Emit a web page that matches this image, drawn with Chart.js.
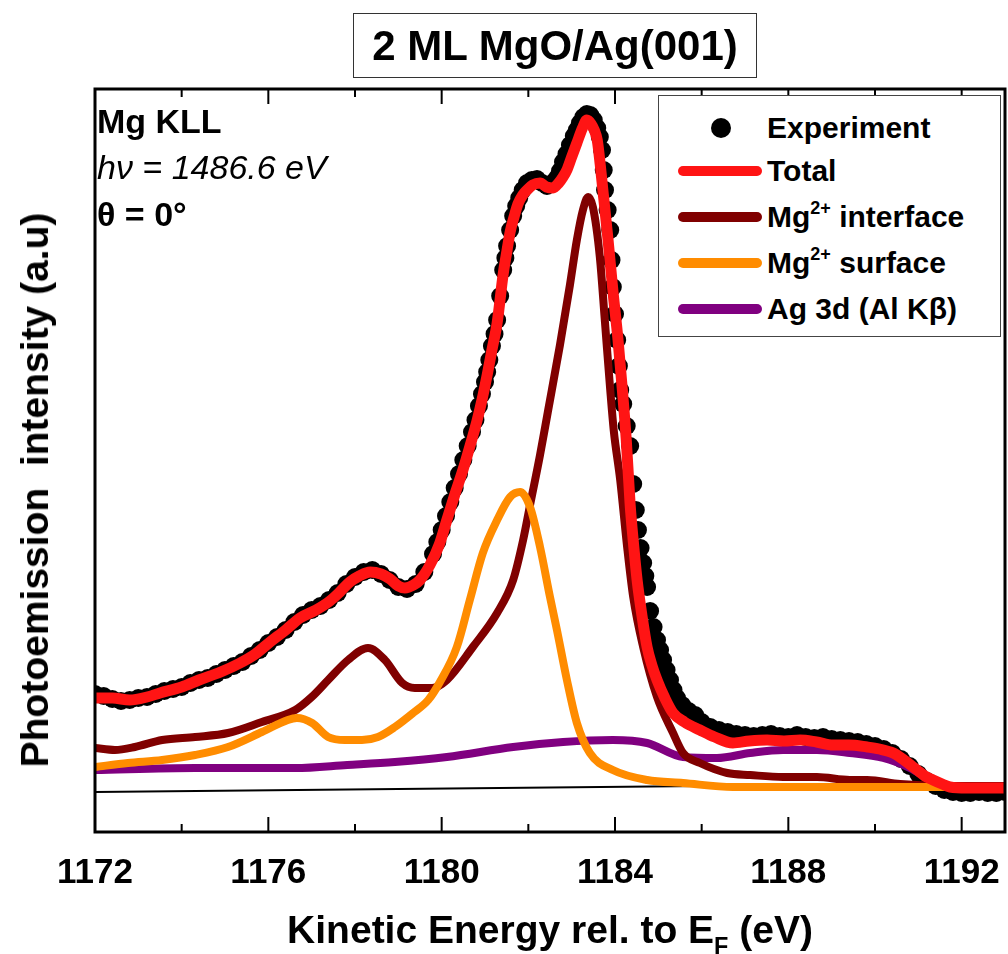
<!DOCTYPE html>
<html>
<head>
<meta charset="utf-8">
<script src="https://cdn.jsdelivr.net/npm/chart.js@4.4.0/dist/chart.umd.min.js"></script>
<style>
    body { margin: 0; background: #fff; font-family: "Liberation Sans", Arial, sans-serif; }
    #wrap { position: relative; width: 1008px; height: 954px; }
    #wrap canvas { position: absolute; left: 0; top: 0; }
    .txt { position: absolute; color: #000; white-space: pre; }
    #title { left: 353px; top: 13px; width: 402px; height: 63px; border: 1.5px solid #333; font-weight: bold;
             font-size: 42px; line-height: 63px; text-align: center; }
    #legend { position: absolute; left: 658px; top: 95px; width: 341px; height: 240px; border: 1.5px solid #444; background: #fff; }
    .row { position: absolute; left: 0; height: 40px; width: 100%; }
    .row .line { position: absolute; left: 19px; top: 15px; width: 84px; height: 10px; border-radius: 5px; }
    .row .dot { position: absolute; left: 52px; top: 10px; width: 20px; height: 20px; border-radius: 50%; background: #000; }
    .row .lab { position: absolute; left: 108px; top: 0; font-weight: bold; font-size: 30px; line-height: 40px; white-space: pre; }
    sup { font-size: 60%; vertical-align: 0; position: relative; top: -0.75em; }
    sub { font-size: 60%; vertical-align: 0; position: relative; top: 0.45em; }
</style>
</head>
<body>
<div id="wrap">
    <canvas id="mgKllChart"></canvas>
    <div id="title" class="txt">2 ML MgO/Ag(001)</div>
    <div class="txt" style="left:97px; top:102px; font-size:34px; font-weight:bold;">Mg KLL</div>
    <div class="txt" style="left:97px; top:148px; font-size:34px; font-style:italic;">hν = 1486.6 eV</div>
    <div class="txt" style="left:97px; top:195px; font-size:34px; font-weight:bold;">θ = 0°</div>
    <div id="legend">
        <div class="row" style="top:12px"><div class="dot"></div><div class="lab">Experiment</div></div>
        <div class="row" style="top:55px"><div class="line" style="background:rgb(255,20,20)"></div><div class="lab">Total</div></div>
        <div class="row" style="top:101px"><div class="line" style="background:rgb(128,0,0)"></div><div class="lab">Mg<sup>2+</sup> interface</div></div>
        <div class="row" style="top:147px"><div class="line" style="background:rgb(255,140,0)"></div><div class="lab">Mg<sup>2+</sup> surface</div></div>
        <div class="row" style="top:193px"><div class="line" style="background:rgb(128,0,128)"></div><div class="lab">Ag 3d (Al Kβ)</div></div>
    </div>
    <div class="txt" style="left:35px; top:490px; font-size:39px; font-weight:bold; transform: translate(-50%, -50%) rotate(-90deg);">Photoemission  intensity (a.u)</div>
    <div class="txt" style="left:550px; top:930px; font-size:39px; font-weight:bold; transform: translate(-50%, -50%);">Kinetic Energy rel. to E<sub>F</sub> (eV)</div>
</div>

<script>
// -------------------------------------------------------------------------- Data (kinetic energy in eV, intensity in a.u.)

const expEnergy = [
    1172.0, 1172.2, 1172.4, 1172.6, 1172.8, 1173.0, 1173.2, 1173.4, 1173.6, 1173.8,
    1174.0, 1174.2, 1174.4, 1174.6, 1174.8, 1175.0, 1175.2, 1175.4, 1175.6, 1175.8,
    1176.0, 1176.2, 1176.4, 1176.6, 1176.8, 1177.0, 1177.2, 1177.4, 1177.6, 1177.8,
    1178.0, 1178.2, 1178.4, 1178.6, 1178.8, 1179.0, 1179.2, 1179.4, 1179.6, 1179.8,
    1179.9, 1180.0, 1180.1, 1180.2, 1180.3, 1180.4, 1180.5, 1180.6, 1180.7, 1180.78,
    1180.86, 1180.93, 1181.0, 1181.05, 1181.1, 1181.16, 1181.22, 1181.28, 1181.35, 1181.42,
    1181.47, 1181.51, 1181.58, 1181.65, 1181.72, 1181.79, 1181.87, 1181.97, 1182.08, 1182.2,
    1182.32, 1182.43, 1182.55, 1182.66, 1182.73, 1182.8, 1182.88, 1182.96, 1183.05, 1183.12,
    1183.19, 1183.27, 1183.35, 1183.43, 1183.51, 1183.59, 1183.65, 1183.7, 1183.74, 1183.77,
    1183.83, 1183.89, 1183.92, 1183.95, 1184.0, 1184.05, 1184.09, 1184.12, 1184.19, 1184.27,
    1184.35, 1184.42, 1184.48, 1184.53, 1184.59, 1184.65, 1184.7, 1184.74, 1184.81, 1184.89,
    1184.97, 1185.04, 1185.11, 1185.19, 1185.27, 1185.35, 1185.43, 1185.55, 1185.7, 1185.85,
    1186.0, 1186.2, 1186.4, 1186.6, 1186.8, 1187.0, 1187.2, 1187.4, 1187.6, 1187.8,
    1188.0, 1188.2, 1188.4, 1188.6, 1188.8, 1189.0, 1189.2, 1189.4, 1189.6, 1189.8,
    1190.0, 1190.2, 1190.4, 1190.6, 1190.8, 1191.0, 1191.2, 1191.4, 1191.6, 1191.8,
    1192.0, 1192.2, 1192.4, 1192.6, 1192.8, 1193.0
]
const expCounts = [
    9.6, 9.4, 9.1, 8.9, 9.0, 9.2, 9.3, 9.6, 9.9, 10.1,
    10.3, 10.7, 11.0, 11.2, 11.6, 12.0, 12.4, 12.8, 13.4, 14.0,
    14.7, 15.3, 16.0, 16.8, 17.5, 18.0, 18.4, 19.0, 19.7, 20.6,
    21.3, 21.8, 22.0, 21.6, 21.0, 20.3, 20.1, 20.6, 21.8, 23.6,
    24.8, 26.0, 27.4, 28.8, 30.2, 31.6, 33.0, 34.4, 35.8, 37.0,
    38.4, 39.6, 40.8, 41.8, 43.0, 44.4, 45.6, 47.0, 49.4, 52.0,
    53.2, 54.4, 56.0, 57.4, 58.4, 59.2, 60.0, 60.7, 61.0, 61.1,
    60.7, 60.4, 60.7, 61.2, 61.9, 62.8, 63.6, 64.5, 65.4, 66.0,
    66.7, 67.3, 67.6, 67.5, 67.0, 66.2, 65.3, 64.0, 62.0, 60.0,
    58.0, 56.0, 53.0, 50.3, 47.6, 45.0, 42.4, 40.0, 38.6, 36.4,
    34.4, 30.6, 28.0, 26.0, 24.2, 22.7, 21.4, 20.3, 17.9, 16.3,
    15.0, 14.0, 13.0, 12.0, 11.0, 10.0, 9.2, 8.5, 7.9, 7.5,
    6.8, 6.3, 6.0, 5.8, 5.6, 5.5, 5.4, 5.5, 5.6, 5.4,
    5.3, 5.5, 5.3, 5.2, 5.3, 5.1, 5.0, 4.9, 4.8, 4.6,
    4.4, 4.1, 3.7, 3.1, 2.4, 1.6, 0.9, 0.4, 0.0, -0.2,
    -0.3, -0.3, -0.2, -0.3, -0.3, -0.2
]

const totalEnergy = [
    1172.0, 1172.4, 1172.8, 1173.2, 1173.5, 1174.0, 1174.4, 1174.9, 1175.35, 1175.7,
    1176.04, 1176.4, 1176.73, 1177.1, 1177.42, 1177.65, 1177.88, 1178.1, 1178.35, 1178.6,
    1178.81, 1179.0, 1179.15, 1179.35, 1179.5, 1179.73, 1179.95, 1180.12, 1180.3, 1180.49,
    1180.66, 1180.82, 1180.93, 1181.05, 1181.16, 1181.28, 1181.42, 1181.51, 1181.58, 1181.67,
    1181.76, 1181.87, 1181.97, 1182.1, 1182.27, 1182.42, 1182.57, 1182.7, 1182.8, 1182.89,
    1183.0, 1183.12, 1183.25, 1183.35, 1183.45, 1183.52, 1183.59, 1183.66, 1183.72, 1183.84,
    1183.95, 1184.07, 1184.17, 1184.26, 1184.35, 1184.43, 1184.51, 1184.62, 1184.74, 1184.85,
    1184.97, 1185.15, 1185.34, 1185.6, 1185.96, 1186.3, 1186.72, 1187.1, 1187.51, 1187.9,
    1188.27, 1188.65, 1189.03, 1189.4, 1189.82, 1190.1, 1190.42, 1190.7, 1190.97, 1191.15,
    1191.34, 1191.55, 1191.73, 1192.12, 1192.5, 1193.0
]
const totalFit = [
    9.2, 9.2, 9.0, 9.3, 9.7, 10.3, 11.0, 11.8, 12.7, 13.6,
    14.8, 16.0, 17.2, 18.0, 18.9, 19.8, 20.8, 21.4, 21.8, 21.6,
    21.1, 20.4, 20.2, 20.5, 21.0, 22.5, 24.6, 27.0, 29.5, 32.0,
    34.5, 37.0, 39.0, 41.5, 44.0, 46.7, 51.6, 54.0, 55.8, 57.3,
    58.6, 59.5, 60.0, 60.5, 60.7, 60.3, 60.2, 60.7, 61.3, 62.0,
    63.3, 64.7, 66.2, 67.0, 66.6, 66.0, 65.0, 62.5, 60.0, 55.0,
    50.0, 45.0, 40.0, 35.0, 28.5, 24.5, 21.0, 17.5, 14.3, 12.5,
    11.0, 9.2, 7.7, 6.8, 6.0, 5.3, 4.7, 4.9, 5.0, 4.9,
    5.0, 4.8, 4.5, 4.5, 4.3, 4.1, 3.7, 2.9, 2.0, 1.4,
    1.0, 0.6, 0.3, 0.2, 0.2, 0.2
]

const ifaceEnergy = [
    1172.0, 1172.46, 1172.92, 1173.55, 1174.31, 1175.07, 1175.85, 1176.62, 1177.0, 1177.38,
    1177.84, 1178.3, 1178.69, 1179.09, 1179.38, 1179.78, 1180.12, 1180.72, 1181.28, 1181.65,
    1181.88, 1182.04, 1182.27, 1182.45, 1182.73, 1182.96, 1183.12, 1183.26, 1183.38, 1183.49,
    1183.65, 1183.77, 1183.89, 1183.97, 1184.12, 1184.28, 1184.42, 1184.65, 1184.97, 1185.34,
    1185.57, 1185.96, 1186.59, 1187.12, 1187.88, 1188.66, 1189.42, 1189.82, 1190.58, 1191.73,
    1193.0
]
const ifaceFit = [
    4.2, 4.0, 4.3, 5.0, 5.3, 5.7, 6.8, 8.0, 9.3, 11.0,
    13.0, 14.2, 13.0, 10.7, 10.2, 10.2, 11.0, 14.3, 17.7, 21.0,
    25.0, 28.5, 33.5, 37.8, 44.5, 50.5, 55.0, 58.0, 59.3, 58.3,
    53.3, 46.7, 40.0, 36.0, 31.0, 24.3, 19.3, 14.3, 9.3, 5.7,
    3.7, 2.7, 1.7, 1.5, 1.3, 1.3, 1.0, 1.0, 0.6, 0.4,
    0.4
]

const surfEnergy = [
    1172.0, 1172.76, 1173.55, 1174.31, 1175.07, 1175.85, 1176.45, 1176.66, 1177.01, 1177.38,
    1177.77, 1178.16, 1178.53, 1178.92, 1179.34, 1179.69, 1179.96, 1180.35, 1180.65, 1180.95,
    1181.28, 1181.58, 1181.81, 1182.04, 1182.27, 1182.5, 1182.66, 1182.89, 1183.12, 1183.42,
    1183.95, 1184.74, 1185.57, 1186.72, 1189.42, 1193.0
]
const surfFit = [
    2.3, 2.7, 3.0, 3.5, 4.3, 5.8, 7.0, 7.2, 6.7, 5.3,
    5.0, 5.0, 5.3, 6.3, 7.7, 9.0, 10.8, 14.3, 19.0, 23.7,
    27.0, 29.3, 29.8, 28.3, 24.3, 19.3, 16.0, 11.0, 6.7, 3.7,
    2.0, 1.0, 0.7, 0.3, 0.3, 0.3
]

const agEnergy = [
    1172.0, 1174.31, 1176.62, 1177.82, 1178.92, 1180.12, 1181.65, 1182.8, 1183.95, 1184.74,
    1185.57, 1186.35, 1187.12, 1187.88, 1188.66, 1189.42, 1190.19, 1190.81, 1191.39, 1191.96,
    1193.0
]
const agFit = [
    2.0, 2.2, 2.2, 2.5, 2.8, 3.3, 4.3, 4.8, 5.0, 4.7,
    3.3, 3.2, 3.7, 4.0, 4.0, 3.7, 3.2, 2.2, 0.8, 0.2,
    0.2
]

const baseEnergy = [1172, 1193]
const baseLevel = [-0.2, 0.7]

const xTicks = [1172, 1176, 1180, 1184, 1188, 1192]

// -------------------------------------------------------------------------- Colours

let red = 'rgb(255, 20, 20)'
let maroon = 'rgb(128, 0, 0)'
let orange = 'rgb(255, 140, 0)'
let purple = 'rgb(128, 0, 128)'

const toPoints = (xs, ys) => xs.map((x, i) => ({ x: x, y: ys[i] }))

const lineSet = (label, xs, ys, color, width, order) => ({
    label: label,
    data: toPoints(xs, ys),
    showLine: true,
    borderColor: color,
    borderWidth: width,
    pointRadius: 0,
    cubicInterpolationMode: 'monotone',
    borderCapStyle: 'round',
    borderJoinStyle: 'round',
    order: order
})

// -------------------------------------------------------------------------- Frame + inside ticks

const frameTicks = {
    id: 'frameTicks',
    afterDatasetsDraw(chart) {
        const { ctx, chartArea: a, scales: { x } } = chart
        ctx.save()
        ctx.strokeStyle = '#000'
        ctx.lineWidth = 2
        x.ticks.forEach(t => {
            const px = x.getPixelForValue(t.value)
            const len = xTicks.includes(t.value) ? 15 : 8
            ctx.beginPath()
            ctx.moveTo(px, a.bottom)
            ctx.lineTo(px, a.bottom - len)
            ctx.moveTo(px, a.top)
            ctx.lineTo(px, a.top + len)
            ctx.stroke()
        })
        ctx.lineWidth = 3
        ctx.strokeRect(a.left, a.top, a.right - a.left, a.bottom - a.top)
        ctx.restore()
    }
}

// -------------------------------------------------------------------------- Chart

const configMgKll = {
    type: 'scatter',
    data: {
        datasets: [
            lineSet('Total', totalEnergy, totalFit, red, 11, 0),
            lineSet('Mg2+ surface', surfEnergy, surfFit, orange, 8, 1),
            lineSet('Mg2+ interface', ifaceEnergy, ifaceFit, maroon, 8, 2),
            lineSet('Ag 3d (Al Kβ)', agEnergy, agFit, purple, 8, 3),
            {
                label: 'Experiment',
                data: toPoints(expEnergy, expCounts),
                showLine: false,
                pointRadius: 9,
                pointBorderWidth: 0,
                backgroundColor: '#000',
                order: 4
            },
            lineSet('baseline', baseEnergy, baseLevel, '#000', 2, 5)
        ]
    },
    options: {
        responsive: true,
        maintainAspectRatio: false,
        animation: false,
        events: [],
        layout: { autoPadding: false, padding: { left: 95, right: 3, top: 89, bottom: 0 } },
        plugins: {
            legend: { display: false },
            tooltip: { enabled: false },
            title: { display: false }
        },
        scales: {
            x: {
                type: 'linear',
                min: 1172,
                max: 1193,
                grid: { display: false },
                border: { display: false },
                afterFit: scale => {
                    scale.height = 122
                    scale.paddingLeft = 0
                    scale.paddingRight = 0
                },
                ticks: {
                    stepSize: 2,
                    includeBounds: false,
                    autoSkip: false,
                    maxRotation: 0,
                    padding: 12,
                    color: '#000',
                    font: { family: '"Liberation Sans", Arial, sans-serif', size: 35, weight: 'bold' },
                    callback: v => xTicks.includes(v) ? String(v) : ''
                }
            },
            y: {
                display: false,
                min: -4.2,
                max: 70.1
            }
        }
    },
    plugins: [frameTicks]
}

let mgKllChart = new Chart(
    document.getElementById('mgKllChart'),
    configMgKll
)
</script>
</body>
</html>
